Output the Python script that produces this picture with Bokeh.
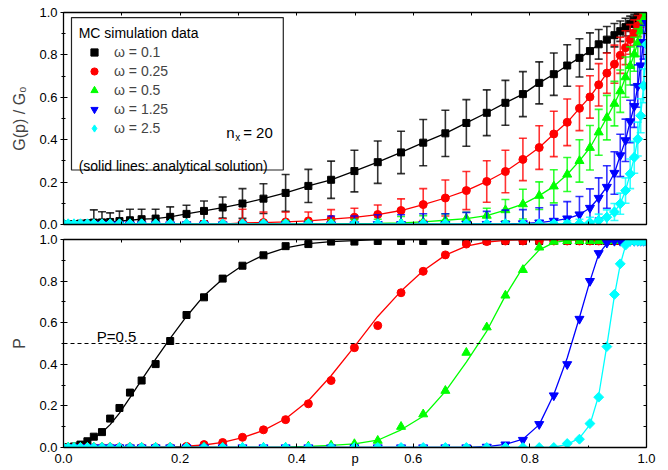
import numpy as np
from bokeh.plotting import figure
from bokeh.models import (ColumnDataSource, Range1d, LinearAxis, SingleIntervalTicker, FixedTicker,
                          PrintfTickFormatter, CustomJSTickFormatter, Legend, LegendItem,
                          Label, Span, BoxAnnotation)
from bokeh.layouts import column
from bokeh.embed import file_html
from bokeh.resources import INLINE

FONT = "Liberation Sans"

# ---------------- data ----------------
p_grid = [0.0, 0.008, 0.018, 0.029, 0.041, 0.052, 0.066, 0.080, 0.096, 0.114,
          0.134, 0.158, 0.183, 0.211, 0.241, 0.273, 0.307, 0.343, 0.381, 0.420,
          0.459, 0.499, 0.539, 0.579, 0.617, 0.655, 0.691, 0.726, 0.758, 0.788,
          0.816, 0.841, 0.864, 0.885, 0.903, 0.918, 0.932, 0.945, 0.955, 0.964,
          0.972, 0.979, 0.985, 0.990, 0.995, 1.0]

x_ticks = [0.0, 0.2, 0.4, 0.5, 0.6, 0.8, 1.0]        # 0.5 carries the axis name "p"
x_minor = [0.1, 0.3, 0.7, 0.9]
edge_ticks = [0.0, 0.1, 0.2, 0.3, 0.4, 0.5, 0.6, 0.7, 0.8, 0.9, 1.0]

labels = ["ω = 0.1", "ω = 0.25", "ω = 0.5", "ω = 1.25", "ω = 2.5"]

# G(p)/G0  (top panel, MC data)
g_w01 = [0.0, 0.001, 0.002, 0.004, 0.006,
         0.009, 0.010, 0.012, 0.016, 0.020, 0.025, 0.028, 0.036, 0.050, 0.064, 0.080,
         0.099, 0.122, 0.149, 0.182, 0.211, 0.252,
         0.294, 0.340, 0.386, 0.430, 0.479, 0.527, 0.574, 0.615, 0.668, 0.709, 0.750,
         0.786, 0.818, 0.850, 0.872, 0.893, 0.912, 0.931, 0.947, 0.961, 0.973, 0.986,
         0.995, 1.0]
e_w01 = [0, 0, 0, 0, 0,
         0.060, 0.050, 0.043, 0.047, 0.052, 0.047, 0.044, 0.047, 0.041, 0.047, 0.050,
         0.070, 0.070, 0.087, 0.078, 0.088, 0.098,
         0.100, 0.100, 0.109, 0.109, 0.110, 0.108, 0.106, 0.106, 0.099, 0.100, 0.098,
         0.090, 0.086, 0.070, 0.062, 0.055, 0.048, 0.042, 0.036, 0.030, 0.024, 0.018,
         0.012, 0]

g_w025 = [0, 0, 0, 0, 0, 0, 0, 0, 0, 0,
          0.0, 0.0, 0.0, 0.0, 0.001, 0.002,
          0.008, 0.009, 0.012, 0.017, 0.025, 0.034,
          0.047, 0.066, 0.094, 0.125, 0.160, 0.203, 0.250, 0.307, 0.363, 0.427, 0.482,
          0.548, 0.602, 0.659, 0.714, 0.756, 0.798, 0.834, 0.873, 0.905, 0.936, 0.964,
          0.991, 1.0]
e_w025 = [0, 0, 0, 0, 0, 0, 0, 0, 0, 0, 0, 0, 0,
          0.010, 0.015, 0.025,
          0.064, 0.050, 0.047, 0.042, 0.045, 0.043,
          0.045, 0.055, 0.075, 0.085, 0.090, 0.098, 0.100, 0.100, 0.103, 0.107, 0.110,
          0.105, 0.100, 0.100, 0.095, 0.090, 0.085, 0.080, 0.070, 0.060, 0.050, 0.035,
          0.020, 0]

g_w05 = [0, 0, 0, 0, 0, 0, 0, 0, 0, 0, 0, 0, 0, 0,
         0.001, 0.001, 0.001, 0.002, 0.002, 0.003, 0.003, 0.004,
         0.005, 0.008, 0.012, 0.020, 0.028, 0.042, 0.068, 0.096, 0.136, 0.180, 0.236,
         0.300, 0.362, 0.435, 0.504, 0.570, 0.629, 0.695, 0.748, 0.803, 0.858, 0.912,
         0.967, 1.0]
e_w05 = [0, 0, 0, 0, 0, 0, 0, 0, 0, 0, 0, 0, 0, 0, 0, 0,
         0.010, 0.012, 0.015, 0.015, 0.018, 0.020,
         0.020, 0.030, 0.030, 0.030, 0.030, 0.035, 0.050, 0.070, 0.065, 0.078, 0.080,
         0.100, 0.105, 0.108, 0.105, 0.105, 0.100, 0.095, 0.090, 0.080, 0.065, 0.050,
         0.030, 0]

g_w125 = [0, 0, 0, 0, 0, 0, 0, 0, 0, 0, 0, 0, 0, 0, 0, 0, 0, 0, 0, 0,
          0.0, 0.0, 0.001, 0.001, 0.001, 0.001, 0.002, 0.002,
          0.003, 0.005, 0.009, 0.017, 0.028, 0.047, 0.078, 0.125, 0.177, 0.243, 0.326,
          0.397, 0.486, 0.558, 0.653, 0.750, 0.860, 0.950]
e_w125 = [0, 0, 0, 0, 0, 0, 0, 0, 0, 0, 0, 0, 0, 0, 0, 0, 0, 0, 0, 0,
          0.040, 0.040, 0.045, 0.045, 0.050, 0.050, 0.055, 0.060,
          0.065, 0.065, 0.070, 0.075, 0.080, 0.085, 0.090, 0.095, 0.100, 0.100, 0.100,
          0.100, 0.100, 0.100, 0.100, 0.090, 0.080, 0]

g_w25 = [0.003] * 33 + [0.005, 0.009, 0.019, 0.034, 0.059, 0.098, 0.160, 0.239,
                        0.317, 0.403, 0.513, 0.654, 0.850]
e_w25 = [0] * 31 + [0.010, 0.015, 0.020, 0.025, 0.030, 0.035, 0.040, 0.050, 0.060,
                    0.070, 0.075, 0.080, 0.080, 0.080, 0]

# P (bottom panel): MC points
P_w01 = [0.0, 0.002, 0.005, 0.014, 0.030, 0.052, 0.074, 0.139, 0.190, 0.264, 0.322,
         0.401, 0.512, 0.637, 0.722, 0.812, 0.874, 0.924, 0.968, 0.978, 0.990, 0.990] + [0.993] * 24
P_w025 = [0] * 13 + [0.005, 0.014, 0.024, 0.049, 0.085, 0.134, 0.210, 0.322, 0.480,
                     0.586, 0.744, 0.847, 0.926, 0.978, 0.990] + [0.993] * 18
P_w05 = [0] * 19 + [0.005, 0.010, 0.017, 0.033, 0.100, 0.160, 0.273, 0.456, 0.578,
                    0.731, 0.854, 0.962, 0.990] + [0.993] * 14
P_w125 = [0] * 27 + [0.003, 0.014, 0.036, 0.112, 0.250, 0.400, 0.618, 0.800, 0.934,
                     0.984] + [0.993] * 9
P_w25 = [0] * 32 + [0.019, 0.040, 0.115, 0.242, 0.485, 0.736, 0.883, 0.973] + [0.993] * 6

# P (bottom panel): analytical solution
A_w01 = [0.0, 0.004, 0.010, 0.018, 0.030, 0.045, 0.072, 0.110, 0.165, 0.240, 0.325,
         0.425, 0.525, 0.630, 0.730, 0.810, 0.875, 0.925, 0.960, 0.980, 0.990, 0.995] + [1.0] * 24
A_w025 = [0] * 12 + [0.002, 0.006, 0.012, 0.025, 0.047, 0.082, 0.138, 0.225, 0.345,
                     0.485, 0.630, 0.752, 0.850, 0.925, 0.968, 0.988, 0.996] + [1.0] * 17
A_w05 = [0] * 18 + [0.002, 0.005, 0.010, 0.017, 0.035, 0.085, 0.150, 0.270, 0.410,
                    0.560, 0.730, 0.866, 0.950, 0.985, 0.996] + [1.0] * 13
A_w125 = [0] * 26 + [0.001, 0.004, 0.015, 0.040, 0.110, 0.255, 0.430, 0.625, 0.800,
                     0.930, 0.980, 0.996] + [1.0] * 8
A_w25 = [0] * 31 + [0.002, 0.015, 0.045, 0.110, 0.250, 0.490, 0.730, 0.880, 0.970,
                    0.995] + [1.0] * 5

colors = ["#000000", "#ff0000", "#00ff00", "#0000ff", "#00ffff"]
markers = ["square", "circle", "triangle", "inverted_triangle", "square"]
angles = [0.0, 0.0, 0.0, 0.0, 0.785398]
sizes = [7, 8, 9, 9, 7]

G_series = [g_w01, g_w025, g_w05, g_w125, g_w25]
E_series = [e_w01, e_w025, e_w05, e_w125, e_w25]
P_series = [P_w01, P_w025, P_w05, P_w125, P_w25]
A_series = [A_w01, A_w025, A_w05, A_w125, A_w25]


# ---------------- helpers ----------------
def base_axis(ax):
    ax.axis_line_color = "black"
    ax.axis_line_width = 1.3
    ax.major_tick_line_color = "black"
    ax.minor_tick_line_color = "black"


def edge_axis(ax):
    """frame edge with inward ticks only, no labels"""
    base_axis(ax)
    ax.ticker = FixedTicker(ticks=[], minor_ticks=edge_ticks)
    ax.minor_tick_in = 3
    ax.minor_tick_out = 0
    ax.major_tick_in = 0
    ax.major_tick_out = 0
    ax.major_label_standoff = 0


def make_fig(height, btop, bbottom, ylabel):
    f = figure(width=668, height=height, x_range=Range1d(0, 1), y_range=Range1d(0, 1),
               output_backend="svg", toolbar_location=None,
               min_border_left=63, min_border_right=22,
               min_border_top=btop, min_border_bottom=bbottom)
    f.grid.visible = False
    f.outline_line_color = None
    xb = f.below[0]
    ya = f.left[0]
    base_axis(ya)
    ya.ticker = SingleIntervalTicker(interval=0.2, num_minor_ticks=2)
    ya.formatter = PrintfTickFormatter(format="%.1f")
    ya.major_tick_in = 4
    ya.major_tick_out = 3
    ya.minor_tick_in = 2
    ya.minor_tick_out = 2
    ya.major_label_text_font = FONT
    ya.major_label_text_font_size = "13px"
    ya.major_label_text_color = "black"
    ya.major_label_standoff = 3
    ya.axis_label = ylabel
    ya.axis_label_text_font = FONT
    ya.axis_label_text_font_size = "16px"
    ya.axis_label_text_font_style = "normal"
    ya.axis_label_standoff = 8
    ra = LinearAxis()
    edge_axis(ra)
    f.add_layout(ra, "right")
    ta = LinearAxis()
    edge_axis(ta)
    f.add_layout(ta, "above")
    return f, xb


# ---------------- top panel ----------------
top, top_x = make_fig(231, 12, 7, "G(p) / G₀")
edge_axis(top_x)

box = BoxAnnotation(left=0.0137, right=0.377, bottom=0.257, top=0.976,
                    fill_color="white", fill_alpha=1.0, line_color="#222222",
                    line_width=1.2, line_alpha=1.0)
top.add_layout(box)

items = []
x_arr = np.array(p_grid)
for lab, g, e, c, m, a, s in zip(labels, G_series, E_series, colors, markers, angles, sizes):
    g = np.array(g, dtype=float)
    e = np.array(e, dtype=float)
    keep = e > 0
    es = ColumnDataSource(dict(x=x_arr[keep], lo=(g - e)[keep], hi=(g + e)[keep]))
    top.segment(x0="x", y0="lo", x1="x", y1="hi", source=es, line_color=c,
                line_width=1.6, line_alpha=0.8)
    top.scatter(x="x", y="hi", source=es, marker="dash", size=8, line_color=c,
                line_width=1.6, line_alpha=0.8)
    top.scatter(x="x", y="lo", source=es, marker="dash", size=8, line_color=c,
                line_width=1.6, line_alpha=0.8)
    src = ColumnDataSource(dict(x=x_arr, y=g))
    top.line(x="x", y="y", source=src, line_color=c, line_width=1.3)
    if a:
        # diamond under the rotated square: gives the legend its diamond key
        key = top.scatter(x="x", y="y", source=src, marker="diamond", size=10,
                          fill_color=c, line_color=c)
        top.scatter(x="x", y="y", source=src, marker=m, angle=a, size=s, fill_color=c,
                    line_color=c)
    else:
        key = top.scatter(x="x", y="y", source=src, marker=m, size=s, fill_color=c,
                          line_color=c)
    items.append(LegendItem(label=lab, renderers=[key]))

legend = Legend(items=items, location=(10, 82),
                label_text_font=FONT, label_text_font_size="14px",
                glyph_width=32, glyph_height=18, label_height=18, label_standoff=4,
                spacing=1, padding=5, margin=0,
                border_line_alpha=0, background_fill_alpha=0)
top.add_layout(legend)

top.add_layout(Label(x=0.026, y=0.904, text="MC simulation data", text_font=FONT,
                     text_font_size="14px", text_baseline="middle", text_color="black"))
top.add_layout(Label(x=0.279, y=0.435, text="n", text_font=FONT, text_font_size="15px",
                     text_baseline="alphabetic", text_color="black"))
top.add_layout(Label(x=0.279, y=0.435, x_offset=9, y_offset=-5, text="x", text_font=FONT,
                     text_font_size="10px", text_baseline="alphabetic", text_color="black"))
top.add_layout(Label(x=0.279, y=0.435, x_offset=17, text="= 20", text_font=FONT,
                     text_font_size="15px", text_baseline="alphabetic", text_color="black"))
top.add_layout(Label(x=0.026, y=0.276, text="(solid lines: analytical solution)",
                     text_font=FONT, text_font_size="14px", text_baseline="alphabetic",
                     text_color="black"))

# ---------------- bottom panel ----------------
bot, bx = make_fig(239, 8, 23, "P")
base_axis(bx)
bx.ticker = FixedTicker(ticks=x_ticks, minor_ticks=x_minor)
bx.formatter = CustomJSTickFormatter(
    code="return Math.abs(tick - 0.5) < 1e-9 ? 'p' : tick.toFixed(1)")
bx.major_tick_in = 4
bx.major_tick_out = 0
bx.minor_tick_in = 2
bx.minor_tick_out = 0
bx.major_label_text_font = FONT
bx.major_label_text_font_size = "13px"
bx.major_label_text_color = "black"
bx.major_label_standoff = 3

bot.add_layout(Span(location=0.5, dimension="width", line_color="black",
                    line_dash="4 3", line_width=1.1))
bot.add_layout(Label(x=0.057, y=0.536, text="P=0.5", text_font=FONT, text_font_size="15px",
                     text_baseline="alphabetic", text_color="black"))

for Pm, A, c, m, a, s in zip(P_series, A_series, colors, markers, angles, sizes):
    asrc = ColumnDataSource(dict(x=x_arr, y=np.array(A, dtype=float)))
    bot.line(x="x", y="y", source=asrc, line_color=c, line_width=1.3)
    msrc = ColumnDataSource(dict(x=x_arr, y=np.array(Pm, dtype=float)))
    bot.scatter(x="x", y="y", source=msrc, marker=m, angle=a, size=s, fill_color=c,
                line_color=c)

layout = column(top, bot, spacing=0)
open("out.html", "w").write(file_html(layout, INLINE))
